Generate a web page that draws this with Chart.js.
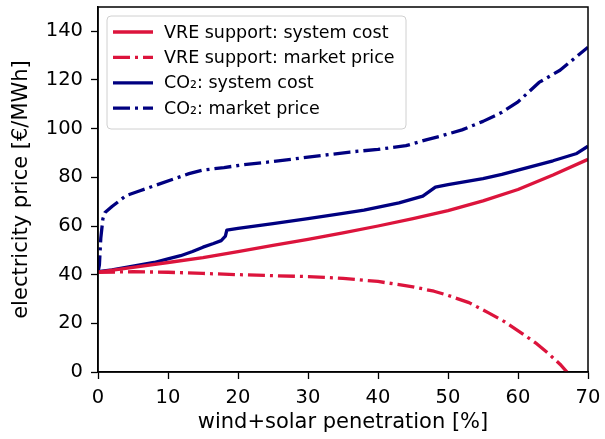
<!DOCTYPE html>
<html>
<head>
<meta charset="utf-8">
<script src="https://cdn.jsdelivr.net/npm/chart.js@4.4.1/dist/chart.umd.min.js"></script>
<style>
  html, body { margin: 0; padding: 0; background: #fff; }
  #wrap { width: 605px; height: 439px; position: relative; }
</style>
</head>
<body>
<div id="wrap"><canvas id="chart"></canvas></div>
<script>
/** Data **/

const series_labels = [
    "VRE support: system cost",
    "VRE support: market price",
    "CO\u2082: system cost",
    "CO\u2082: market price"
];

// VRE support: system cost
const vre_cost_x = [0, 5, 10, 15, 20, 25, 30, 35, 40, 45, 50, 55, 60, 65, 70];
const vre_cost_y = [41, 43, 45, 47, 49.5, 52, 54.5, 57.2, 60, 63, 66.3, 70.3, 75, 81, 87.4];

// VRE support: market price
const vre_price_x = [0, 5, 10, 15, 20, 25, 30, 35, 40, 45, 48, 50, 53, 55.8, 58, 60.5, 62.5, 64.3, 66, 67];
const vre_price_y = [41, 41.2, 41, 40.5, 40, 39.6, 39.2, 38.5, 37.2, 35, 33.2, 31.5, 28.5, 24.3, 20.8, 16, 12, 7.7, 3.2, 0];

// CO2: system cost
const co2_cost_x = [0, 2, 4, 6, 8, 10, 11.8, 13.5, 15, 16.5, 17.6, 18.2, 18.4, 20, 25, 30, 35, 38, 43, 46.4, 48.2, 50, 55, 57.7, 60, 65, 68.4, 70];
const co2_cost_y = [41.2, 42, 43, 44, 45, 46.5, 47.8, 49.5, 51.3, 52.8, 54, 55.8, 58.3, 59, 61, 63, 65.2, 66.5, 69.5, 72.3, 76, 77, 79.5, 81.2, 83, 86.8, 89.8, 92.8];

// CO2: market price
const co2_price_x = [0, 0.2, 0.4, 0.7, 1, 2, 4, 6, 8.5, 11, 13, 15, 18, 20.3, 25, 30, 36, 40, 44, 47, 49, 52, 55, 57.7, 60, 63, 66, 70];
const co2_price_y = [41, 44, 55, 63, 65.5, 68, 72.5, 74.5, 77, 79.5, 81.5, 83, 84, 85, 86.5, 88.3, 90.4, 91.5, 93, 95.5, 97, 99.5, 103, 106.7, 111, 119, 124, 133.5];

// Axis ticks
const x_ticks = [0, 10, 20, 30, 40, 50, 60, 70];
const y_ticks = [0, 20, 40, 60, 80, 100, 120, 140];

/** Styles **/

const red_color = "#DC143C";
const blue_color = "#000080";
const dash_dot = [17, 5, 3, 5];
const font_family = "'DejaVu Sans', sans-serif";

function to_points(xs, ys) {
    return xs.map(function(x, i) { return {x: x, y: ys[i]}; });
}

function make_dataset(label, xs, ys, color, dashed) {
    return {
        label: label,
        data: to_points(xs, ys),
        borderColor: color,
        backgroundColor: color,
        borderWidth: 3.3,
        borderDash: dashed ? dash_dot : [],
        borderCapStyle: "butt",
        borderJoinStyle: "round",
        pointRadius: 0,
        tension: 0,
        fill: false,
        clip: 0
    };
}

// Box round the plot, plus the legend in the upper left corner
const frame_and_legend = {
    id: "frame_and_legend",
    afterDraw: function(chart) {
        const ctx = chart.ctx;
        const area = chart.chartArea;
        ctx.save();
        ctx.strokeStyle = "#000";
        ctx.lineWidth = 1.5;
        ctx.strokeRect(area.left, area.top, area.right - area.left, area.bottom - area.top);

        // legend frame
        const lx = area.left + 9, ly = area.top + 9, lw = 299, lh = 113;
        ctx.beginPath();
        ctx.roundRect(lx, ly, lw, lh, 4);
        ctx.fillStyle = "rgba(255,255,255,0.8)";
        ctx.fill();
        ctx.strokeStyle = "#d0d0d0";
        ctx.lineWidth = 1;
        ctx.stroke();

        ctx.font = "17.5px " + font_family;
        ctx.textBaseline = "middle";
        ctx.textAlign = "left";
        chart.data.datasets.forEach(function(ds, i) {
            const cy = ly + 16 + i * 25.4;
            ctx.beginPath();
            ctx.setLineDash(ds.borderDash);
            ctx.lineCap = "butt";
            ctx.strokeStyle = ds.borderColor;
            ctx.lineWidth = ds.borderWidth;
            ctx.moveTo(lx + 6, cy);
            ctx.lineTo(lx + 46, cy);
            ctx.stroke();
            ctx.setLineDash([]);
            ctx.fillStyle = "#000";
            ctx.fillText(ds.label, lx + 57, cy + 1);
        });
        ctx.restore();
    }
};

new Chart(document.getElementById("chart"), {
    type: "line",
    data: {
        datasets: [
            make_dataset(series_labels[0], vre_cost_x, vre_cost_y, red_color, false),
            make_dataset(series_labels[1], vre_price_x, vre_price_y, red_color, true),
            make_dataset(series_labels[2], co2_cost_x, co2_cost_y, blue_color, false),
            make_dataset(series_labels[3], co2_price_x, co2_price_y, blue_color, true)
        ]
    },
    options: {
        responsive: true,
        maintainAspectRatio: false,
        animation: false,
        layout: { padding: { top: 7, right: 17, left: 0, bottom: 0 } },
        plugins: {
            legend: { display: false },
            tooltip: { enabled: false }
        },
        scales: {
            x: {
                type: "linear",
                min: 0,
                max: 70,
                afterBuildTicks: function(axis) {
                    axis.ticks = x_ticks.map(function(v) { return {value: v}; });
                },
                afterFit: function(axis) {
                    axis.height = 67;
                    axis.paddingLeft = 0;
                    axis.paddingRight = 0;
                },
                ticks: {
                    color: "#000",
                    font: { family: font_family, size: 19.5 },
                    padding: 7,
                    maxRotation: 0
                },
                grid: {
                    drawOnChartArea: false,
                    drawTicks: true,
                    tickLength: 7,
                    tickColor: "#000",
                    tickWidth: 1.3
                },
                border: { display: true, color: "#000", width: 1.5 },
                title: {
                    display: true,
                    text: "wind+solar penetration [%]",
                    color: "#000",
                    font: { family: font_family, size: 21 },
                    padding: { top: 2, bottom: 4 }
                }
            },
            y: {
                type: "linear",
                min: 0,
                max: 150,
                afterBuildTicks: function(axis) {
                    axis.ticks = y_ticks.map(function(v) { return {value: v}; });
                },
                afterFit: function(axis) {
                    axis.width = 98;
                    axis.paddingTop = 0;
                    axis.paddingBottom = 0;
                },
                ticks: {
                    color: "#000",
                    font: { family: font_family, size: 19.5 },
                    padding: 8
                },
                grid: {
                    drawOnChartArea: false,
                    drawTicks: true,
                    tickLength: 7,
                    tickColor: "#000",
                    tickWidth: 1.3
                },
                border: { display: true, color: "#000", width: 1.5 },
                title: {
                    display: true,
                    text: "electricity price [\u20AC/MWh]",
                    color: "#000",
                    font: { family: font_family, size: 21 },
                    padding: { top: 9, bottom: 0 }
                }
            }
        }
    },
    plugins: [frame_and_legend]
});
</script>
</body>
</html>
